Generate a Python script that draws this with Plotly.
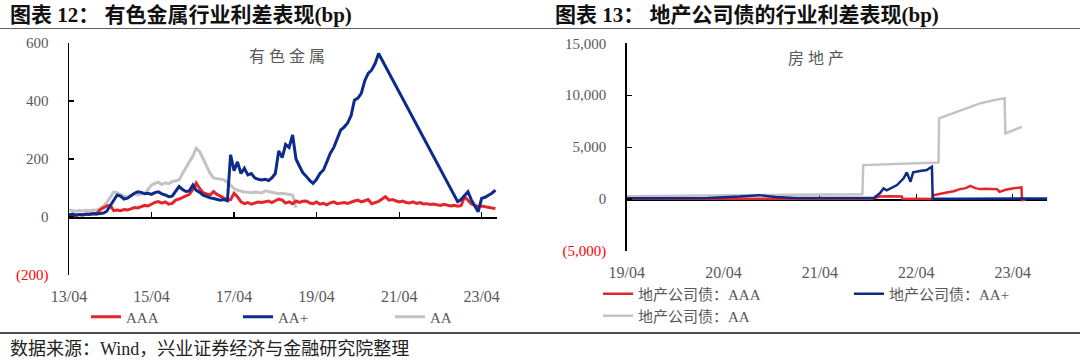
import plotly.graph_objects as go
import pandas as pd

W, H = 1080, 362

# ---------------- Left chart data (monthly) ----------------
left_dates = pd.date_range("2013-04-01", "2023-08-01", freq="MS")

left_aaa = [
    5, 6, 4, 8, 7, 9, 10, 12, 11,
    25, 32, 38, 40, 22, 24, 22, 26, 24, 28, 33, 31,
    36, 40, 38, 45, 50, 53, 48, 52, 44, 47, 58, 62,
    68, 72, 78, 95, 117, 98, 84, 80, 76, 88, 78, 72,
    65, 58, 60, 82, 70, 52, 46, 50, 44, 48, 52, 50,
    52, 55, 50, 56, 62, 58, 48, 52, 46, 55, 50, 54,
    55, 48, 46, 52, 44, 47, 42, 49, 52, 46, 48, 50,
    47, 52, 55, 58, 52, 56, 60, 46, 50, 54, 62, 70,
    58, 60, 56, 52, 55, 50, 48, 52, 47, 50, 45, 46,
    43, 45, 42, 40, 44, 41, 38, 40, 37, 39, 70, 58,
    45, 40, 36, 38, 35, 33, 31, 29,
]

N = None
left_aap = [
    8, 10, 7, 9, 8, 10, 9, 11, 10,
    12, 14, 20, 38, 55, 76, 72, 62, 65, 75, 82, 87,
    85, 80, 82, 78, 84, 87, 80, 76, 70, 72, 88, 105,
    95, 88, 90, 110, 92, 85, 75, 70, 66, 64, 60, 58,
    60, 56, 214, 160, 190, 150, 168, 145, 150, 135, 130, 128,
    130, 126, 135, 150, 228, 205, 250, 240, 283, 200, 175, 152,
    140, 125, 116, 130, 150, 162, 190, 220, 240, 270, 300, 310,
    324, 350, 403, 410, 426, 470, 495, 507, 530, 564, N, N,
    N, N, N, N, N, N, N, N, N, N, N, N,
    N, N, N, N, N, N, N, N, 53, 60, 72, 87,
    58, 35, 18, 64, 68, 75, 82, 93,
]

left_aa = [
    24, 22, 20, 22, 21, 23, 22, 24, 23,
    30, 38, 50, 68, 86, 84, 78, 72, 70, 75, 80, 76,
    78, 82, 95, 110, 116, 120, 112, 118, 115, 122, 125, 128,
    150, 173, 190, 210, 237, 225, 200, 175, 150, 135, 132, 130,
    128, 120, 110, 98, 92, 88, 86, 85, 84, 86, 85, 83,
    90, 88, 84, 82, 80, 82, 80, 78, 76, 32, N, N,
    N, N, N, N, N, N, N, N, N, N, N, N,
    N, N, N, N, N, N, N, N, N, N, N, N,
    N, N, N, N, N, N, N, N, N, N, N, N,
    N, N, N, N, N, N, N, N, N, N, N, N,
    N, N, N, N, N, N, N, N,
]

left_tickvals = ["2013-04-01", "2015-04-01", "2017-04-01", "2019-04-01", "2021-04-01", "2023-04-01"]
left_ticktext = ["13/04", "15/04", "17/04", "19/04", "21/04", "23/04"]
left_yticks = [-200, 0, 200, 400, 600]
left_yticktext = ["<span style='color:#FF0000'>(200)</span>", "0", "200", "400", "600"]

# ---------------- Right chart data ----------------
r_aaa_dates = ["2019-04-01", "2019-07-01", "2019-10-01", "2020-01-01", "2020-04-01", "2020-07-01",
               "2020-10-01", "2021-01-01", "2021-04-01", "2021-07-01", "2021-10-15", "2021-11-14",
               "2021-12-20", "2022-02-05", "2022-02-08", "2022-04-01", "2022-06-01", "2022-06-04",
               "2022-07-01", "2022-07-25", "2022-08-20", "2022-09-13", "2022-10-05", "2022-10-22",
               "2022-11-10", "2022-11-28", "2022-12-20", "2023-01-31", "2023-02-10", "2023-03-05",
               "2023-04-05", "2023-05-04", "2023-05-06", "2023-05-20"]
r_aaa = [20, 15, 10, 12, 15, 18, 20, 22, 25, 30, 40, 250,
         280, 240, 10, 20, 10, 370,
         480, 640, 760, 960, 1050, 1280,
         1050, 960, 1000, 960, 700, 900,
         1050, 1120, -100, -50]

r_aap_dates = ["2019-04-01", "2019-09-01", "2020-02-01", "2020-06-01", "2020-08-15", "2020-10-15",
               "2021-01-01", "2021-05-01", "2021-09-01", "2021-10-22", "2021-11-14", "2021-11-28",
               "2021-12-10", "2022-01-18", "2022-02-12", "2022-02-24", "2022-03-10", "2022-03-20",
               "2022-04-15", "2022-05-10", "2022-05-30", "2022-06-02", "2022-10-01", "2023-02-01",
               "2023-08-10"]
r_aap = [80, 90, 110, 250, 380, 200, 110, 100, 95, 110, 550, 1030,
         850, 1350, 2000, 2570, 1670, 2570, 2700, 2800, 3110, 50, 40, 50, 60]

r_aa_dates = ["2019-04-01", "2019-08-01", "2019-12-01", "2020-04-01", "2020-08-01", "2020-12-01",
              "2021-04-01", "2021-08-01", "2021-09-09", "2021-09-12", "2021-12-01", "2022-03-01",
              "2022-06-24", "2022-06-26", "2022-08-20", "2022-10-10", "2022-11-28", "2023-01-20",
              "2023-03-01", "2023-03-04", "2023-05-05"]
r_aa = [280, 300, 320, 330, 380, 400, 420, 450, 470, 3270, 3350, 3450,
        3530, 7770, 8260, 8730, 9210, 9530, 9700, 6330, 6960]

right_tickvals = ["2019-04-01", "2020-04-01", "2021-04-01", "2022-04-01", "2023-04-01"]
right_ticktext = ["19/04", "20/04", "21/04", "22/04", "23/04"]
right_yticks = [-5000, 0, 5000, 10000, 15000]
right_yticktext = ["<span style='color:#FF0000'>(5,000)</span>", "0", "5,000", "10,000", "15,000"]

# ---------------- Styles ----------------
RED = "#E3262B"
NAVY = "#0C2B8A"
GREY = "#C3C3C3"
TXT = "#595959"
FONT = "Liberation Serif, Noto Sans CJK SC, serif"

def px_x(p):
    return p / W

def px_y(p):
    return 1 - p / H

L_X0, L_X1, L_YT, L_YB = 69, 497, 43, 275
R_X0, R_X1, R_YT, R_YB = 626.7, 1047.4, 43.3, 251

fig = go.Figure()

# left traces (grey drawn first so it sits underneath)
fig.add_trace(go.Scatter(x=left_dates, y=left_aa, mode="lines", name="AA", legendrank=3,
                         line=dict(color=GREY, width=3), xaxis="x", yaxis="y", legend="legend"))
fig.add_trace(go.Scatter(x=left_dates, y=left_aaa, mode="lines", name="AAA", legendrank=1,
                         line=dict(color=RED, width=3), xaxis="x", yaxis="y", legend="legend"))
fig.add_trace(go.Scatter(x=left_dates, y=left_aap, mode="lines", name="AA+", connectgaps=True,
                         legendrank=2, line=dict(color=NAVY, width=3), xaxis="x", yaxis="y",
                         legend="legend"))

# right traces
fig.add_trace(go.Scatter(x=r_aa_dates, y=r_aa, mode="lines", name="地产公司债：AA",
                         line=dict(color=GREY, width=2.5), xaxis="x2", yaxis="y2", legend="legend3"))
fig.add_trace(go.Scatter(x=r_aaa_dates, y=r_aaa, mode="lines", name="地产公司债：AAA",
                         line=dict(color=RED, width=2.5), xaxis="x2", yaxis="y2", legend="legend2"))
fig.add_trace(go.Scatter(x=r_aap_dates, y=r_aap, mode="lines", name="地产公司债：AA+",
                         line=dict(color=NAVY, width=2.5), xaxis="x2", yaxis="y2", legend="legend4"))

# empty helper traces so the zero-line axes exist
fig.add_trace(go.Scatter(x=[], y=[], xaxis="x3", yaxis="y", showlegend=False, hoverinfo="skip"))
fig.add_trace(go.Scatter(x=[], y=[], xaxis="x4", yaxis="y2", showlegend=False, hoverinfo="skip"))

tickfont = dict(family=FONT, size=15, color=TXT)

l_ydom = [px_y(L_YB), px_y(L_YT)]
r_ydom = [px_y(R_YB), px_y(R_YT)]
l_zero = l_ydom[0] + (0 - (-200)) / 800 * (l_ydom[1] - l_ydom[0])
r_zero = r_ydom[0] + (0 - (-5000)) / 20000 * (r_ydom[1] - r_ydom[0])

l_range = ["2013-04-01", "2023-08-15"]
r_range = ["2019-04-01", "2023-08-10"]

common_x = dict(showline=False, ticks="", showgrid=False, zeroline=False, automargin=False,
                fixedrange=True, type="date", tickfont=dict(family=FONT, size=16, color=TXT),
                ticklabelstandoff=10)
common_y = dict(showline=True, linecolor="black", linewidth=1.5, ticks="inside", ticklen=5,
                tickcolor="black", tickwidth=1.2, showgrid=False, zeroline=False, automargin=False,
                tickfont=tickfont, ticklabelstandoff=16, fixedrange=True)
common_zero = dict(anchor="free", type="date", showticklabels=False, showline=True,
                   linecolor="black", linewidth=1.5, ticks="inside", ticklen=5, tickcolor="black",
                   tickwidth=1.2, showgrid=False, zeroline=False, layer="below traces",
                   automargin=False, fixedrange=True)

legfont = dict(family=FONT, size=15, color=TXT)

fig.update_layout(
    template="none",
    width=W, height=H,
    margin=dict(l=0, r=0, t=0, b=0, autoexpand=False),
    paper_bgcolor="white", plot_bgcolor="rgba(0,0,0,0)",
    font=dict(family=FONT, color=TXT),
    xaxis=dict(domain=[px_x(L_X0), px_x(L_X1)], range=l_range, tickvals=left_tickvals,
               ticktext=left_ticktext, anchor="y", **common_x),
    yaxis=dict(domain=l_ydom, range=[-200, 600], anchor="x", tickvals=left_yticks,
               ticktext=left_yticktext, **common_y),
    xaxis3=dict(overlaying="x", position=l_zero, range=l_range, tickvals=left_tickvals,
                **common_zero),
    xaxis2=dict(domain=[px_x(R_X0), px_x(R_X1)], range=r_range, tickvals=right_tickvals,
                ticktext=right_ticktext, anchor="y2", **common_x),
    yaxis2=dict(domain=r_ydom, range=[-5000, 15000], anchor="x2", tickvals=right_yticks,
                ticktext=right_yticktext, **common_y),
    xaxis4=dict(overlaying="x2", position=r_zero, range=r_range, tickvals=right_tickvals,
                **common_zero),
    legend=dict(orientation="h", x=px_x(86), y=px_y(317), xanchor="left", yanchor="middle",
                entrywidth=107, entrywidthmode="pixels", bgcolor="rgba(0,0,0,0)",
                font=legfont, traceorder="normal"),
    legend2=dict(orientation="h", x=px_x(598), y=px_y(294), xanchor="left", yanchor="middle",
                 bgcolor="rgba(0,0,0,0)", font=legfont),
    legend4=dict(orientation="h", x=px_x(849), y=px_y(294), xanchor="left", yanchor="middle",
                 bgcolor="rgba(0,0,0,0)", font=legfont),
    legend3=dict(orientation="h", x=px_x(598), y=px_y(316), xanchor="left", yanchor="middle",
                 bgcolor="rgba(0,0,0,0)", font=legfont),
    showlegend=True,
)

annotations = [
    dict(text="<b>图表 12： 有色金属行业利差表现(bp)</b>", x=px_x(8), y=px_y(15), xanchor="left",
         yanchor="middle", font=dict(family=FONT, size=21, color="#111111")),
    dict(text="<b>图表 13： 地产公司债的行业利差表现(bp)</b>", x=px_x(553), y=px_y(15), xanchor="left",
         yanchor="middle", font=dict(family=FONT, size=21, color="#111111")),
    dict(text="有 色 金 属", x=px_x(287), y=px_y(56), xanchor="center", yanchor="middle",
         font=dict(family=FONT, size=16, color=TXT)),
    dict(text="房 地 产", x=px_x(816), y=px_y(58), xanchor="center", yanchor="middle",
         font=dict(family=FONT, size=16, color=TXT)),
    dict(text="数据来源：Wind，兴业证券经济与金融研究院整理", x=px_x(8), y=px_y(349),
         xanchor="left", yanchor="middle", font=dict(family=FONT, size=18, color="#222222")),
]
for a in annotations:
    a.update(xref="paper", yref="paper", showarrow=False)
fig.update_layout(annotations=annotations)

shapes = [
    dict(type="line", xref="paper", yref="paper", x0=0, x1=1, y0=px_y(28.5), y1=px_y(28.5),
         line=dict(color="#606060", width=1.2)),
    dict(type="line", xref="paper", yref="paper", x0=0, x1=1, y0=px_y(333), y1=px_y(333),
         line=dict(color="#111111", width=1.5)),
]
fig.update_layout(shapes=shapes)

fig.write_html("out.html", config={"displayModeBar": False, "staticPlot": True},
               post_script="document.body.style.margin='0';document.body.style.overflow='hidden';")
